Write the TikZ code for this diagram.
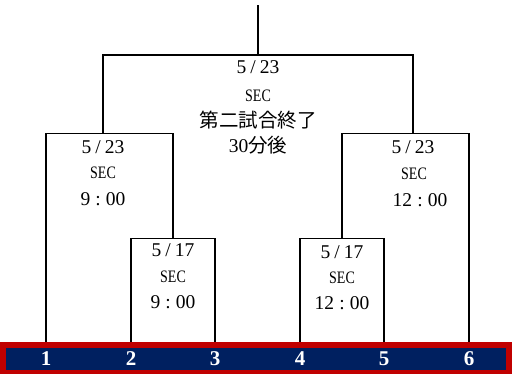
\documentclass[tikz,border=0pt]{standalone}
\usepackage{graphicx}
\usepackage{fontspec}
\setmainfont{Liberation Serif}
\newfontfamily\cjk{Noto Sans CJK JP}
\definecolor{barred}{HTML}{C00000}
\definecolor{barblue}{HTML}{002060}
\newcommand\myslash{\makebox[0.7em]{/}}
\newcommand\mycolon{\makebox[0.8em]{:}}
\newcommand\mysec{\scalebox{0.8}[1]{SEC}}
\begin{document}
\begin{tikzpicture}[x=1pt,y=-1pt,
  bline/.style={line width=1.6pt, black, line join=miter},
  lbl/.style={font=\fontsize{19.5}{21}\selectfont, inner sep=0pt, anchor=base},
  sec/.style={font=\fontsize{17.5}{19}\selectfont, inner sep=0pt, anchor=base},
  cjkl/.style={font=\fontsize{19.5}{22}\selectfont\cjk, inner sep=0pt, anchor=base},
  num/.style={font=\fontsize{21}{24}\selectfont\bfseries, text=white, inner sep=0pt, anchor=base}]
\useasboundingbox (0,0) rectangle (512,374);
% bracket points
\coordinate (b1) at (46,342);
\coordinate (b2) at (131,342);
\coordinate (b3) at (215,342);
\coordinate (b4) at (300,342);
\coordinate (b5) at (384,342);
\coordinate (b6) at (469,342);
\coordinate (m1) at (173,238.5);
\coordinate (m2) at (342,238.5);
\coordinate (g1) at (103,133.5);
\coordinate (g2) at (413,133.5);
\coordinate (r) at (258,55);
\coordinate (top) at (258,5);
% brackets
\draw[bline] (b2) |- (m1) -| (b3);
\draw[bline] (b4) |- (m2) -| (b5);
\draw[bline] (b1) |- (g1) -| (m1);
\draw[bline] (m2) |- (g2) -| (b6);
\draw[bline] (g1) |- (r) -| (g2);
\draw[bline] (r) -- (top);
% bar
\fill[barred] (0,342) rectangle (512,374);
\fill[barblue] (6,348) rectangle (506,370.5);
\node[num] (n1) at (46,365.5) {1};
\node[num] (n2) at (131,365.5) {2};
\node[num] (n3) at (215,365.5) {3};
\node[num] (n4) at (300,365.5) {4};
\node[num] (n5) at (384,365.5) {5};
\node[num] (n6) at (469,365.5) {6};
% root labels
\node[lbl] (r1) at (258,74) {5\myslash23};
\node[sec] (r2) at (258,101.5) {\mysec};
\node[cjkl] (r3) at (258,128) {第二試合終了};
\node[lbl] (r4) at (258,153) {30{\cjk\fontsize{19.5}{22}\selectfont 分後}};
% left group
\node[lbl] (l1) at (103,153.5) {5\myslash23};
\node[sec] (l2) at (103,179) {\mysec};
\node[lbl] (l3) at (103,205.5) {9\mycolon00};
% right group
\node[lbl] (g1a) at (413,153.5) {5\myslash23};
\node[sec] (g1b) at (414,180) {\mysec};
\node[lbl] (g1c) at (420,206.5) {12\mycolon00};
% inner left
\node[lbl] (i1) at (173,257) {5\myslash17};
\node[sec] (i2) at (173,282.5) {\mysec};
\node[lbl] (i3) at (173,309) {9\mycolon00};
% inner right
\node[lbl] (j1) at (342,259) {5\myslash17};
\node[sec] (j2) at (342,283.5) {\mysec};
\node[lbl] (j3) at (342,309.5) {12\mycolon00};
\end{tikzpicture}
\end{document}
